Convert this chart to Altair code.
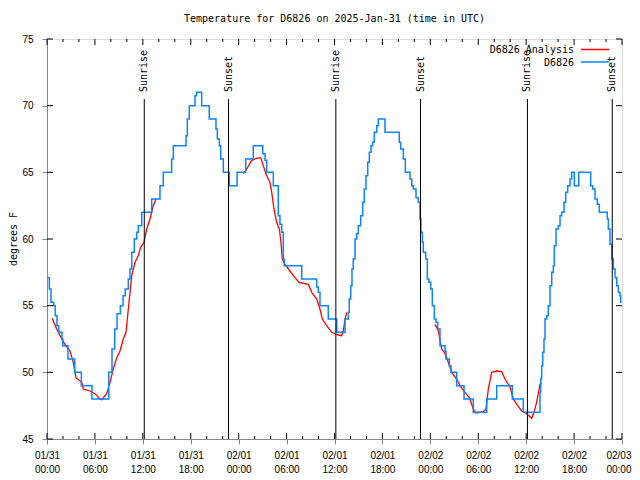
import json
import altair as alt
import pandas as pd

MONO = "DejaVu Sans Mono"

# ---- D6826 observed (hours since 2025-01-31 00:00 UTC, degrees F) ----
blue_hours = [0.0, 0.29, 0.5, 0.84, 1.04, 1.25, 1.47, 1.88, 1.97, 2.63, 3.47, 4.3, 5.63,
              7.73, 8.14, 8.48, 8.77, 9.18, 9.52, 9.8, 10.18, 10.39, 10.61, 10.93, 11.23,
              11.43, 11.86, 13.11, 14.15, 14.56, 15.61, 15.82, 17.41, 17.57, 17.82, 18.53,
              18.74, 19.37, 20.32, 21.16, 21.33, 21.58, 21.75, 22.08, 22.83, 23.8, 24.88,
              25.83, 27.01, 27.3, 27.51, 28.34, 28.96, 29.17, 29.39, 29.59, 29.71, 31.89,
              33.77, 33.97, 34.18, 35.22, 36.28, 37.32, 37.73, 37.85, 38.03, 38.19, 38.35,
              38.57, 38.78, 38.98, 39.28, 39.53, 39.73, 39.94, 40.16, 40.36, 40.57, 40.78,
              40.98, 41.28, 41.49, 42.32, 44.11, 44.29, 44.62, 44.87, 45.45, 45.67, 45.87,
              46.21, 46.5, 46.71, 46.83, 47.0, 47.12, 47.42, 47.62, 47.83, 48.05, 48.25,
              48.5, 48.71, 48.92, 49.21, 49.84, 49.96, 50.38, 50.59, 51.3, 52.22, 53.38,
              55.06, 56.31, 58.27, 59.64, 61.73, 61.82, 61.94, 62.07, 62.23, 62.36, 62.57,
              62.77, 62.99, 63.2, 63.4, 63.52, 63.74, 64.02, 64.24, 64.45, 64.74, 64.95,
              65.2, 65.49, 65.7, 66.03, 66.58, 68.08, 68.33, 68.62, 68.91, 69.16, 70.16,
              70.29, 70.5, 70.71, 70.92, 71.13, 71.34, 71.54, 71.75, 71.84, 71.92]
blue_temps = [57.1, 56.25, 55.25, 55, 54.25, 53.5, 53, 52.5, 52, 51, 50, 49, 48,
              50, 51.75, 53.25, 54.4, 55, 55.75, 56.25, 57, 57.75, 59, 60, 60.5,
              61, 62, 63, 64, 65, 66, 67, 67.75, 69, 70, 70.75,
              71, 70, 69, 68.25, 67.5, 67, 66, 65, 64, 65, 66,
              67, 66.4, 65.9, 65, 64, 61.75, 61.1, 60.5, 58.5, 58, 57,
              56.4, 56, 55, 54, 53, 54, 54.5, 55.5, 56.5, 57.75, 58.5,
              60, 60.4, 61, 61.75, 62.75, 63.75, 64.75, 65.75, 66.5, 67, 67.25,
              68, 68.5, 69, 68, 67.25, 66.75, 66, 65, 64.5, 64, 63.75,
              63.1, 62.75, 61.5, 60.5, 59.75, 59, 58.5, 57, 56.75, 56.25, 55,
              54, 53.75, 53.25, 52, 51.6, 51, 50.5, 50, 49, 48, 47,
              48, 49, 48, 47, 48.5, 49.5, 50.5, 51.5, 52.5, 54, 54.25,
              55, 56.5, 57.5, 58, 59.5, 60.75, 61, 61.75, 62, 62.75, 63.5,
              64, 64.5, 65, 64, 65, 64, 63.75, 63, 62.6, 62, 61.5,
              60.75, 59.6, 58.5, 57.75, 57.1, 56.5, 56, 55.75, 55.25, 55.25]

# ---- D6826 Analysis (three separate segments) ----
red1_hours = [0.66, 1.21, 1.63, 2.25, 2.88, 3.29, 3.63, 4.35, 4.55, 5.38, 6.01, 6.64, 6.85,
              7.48, 7.89, 8.3, 8.73, 9.14, 9.55, 9.89, 10.06, 10.31, 10.61, 11.02, 11.43,
              11.73, 12.15, 12.48, 12.9, 13.31, 13.65]
red1_temps = [54.05, 53.25, 52.75, 52.1, 51.6, 50.75, 49.6, 49.25, 48.75, 48.6, 48.4, 48, 47.95,
              48.4, 49.25, 50.25, 51.1, 51.6, 52.5, 53, 54, 55.5, 57.25, 58.25, 58.75,
              59.4, 59.75, 60.75, 61.5, 62.5, 63]
red2_hours = [24.58, 25.01, 25.63, 26.26, 26.76, 27.08, 27.51, 27.92, 28.14, 28.42, 28.76,
              29.09, 29.3, 29.46, 29.8, 30.43, 31.05, 31.56, 32.72, 33.15, 33.77, 34.18,
              34.47, 35.02, 35.65, 36.48, 36.9, 37.1, 37.32, 37.53]
red2_temps = [64.9, 65.25, 65.9, 66.05, 66.1, 65.5, 64.75, 64.25, 63.5, 62.25, 61.25,
              60.75, 59.75, 58.5, 58.1, 57.6, 57.1, 56.75, 56.6, 56, 55.5, 54.75,
              54, 53.5, 53, 52.8, 52.75, 53.1, 54, 54.5]
red3_hours = [48.59, 49.0, 49.42, 49.84, 50.25, 50.68, 51.3, 51.72, 52.34, 52.88, 53.38,
              53.72, 54.63, 54.97, 55.26, 55.68, 56.31, 56.94, 57.35, 57.98, 58.39, 58.82,
              59.44, 60.06, 60.69, 60.98, 61.31, 61.73, 61.94]
red3_temps = [53.6, 53.1, 51.75, 51.4, 50.75, 50, 49.5, 49, 48.5, 48.1, 47.25,
              46.95, 47.05, 47.25, 48.75, 50, 50.1, 50.05, 49.5, 48.9, 48, 47.6,
              47.1, 46.9, 46.55, 47, 47.75, 49.1, 49.2]

# ---- sun events ----
sun_hours = [12.18, 22.73, 36.17, 46.77, 60.16, 70.78]
sun_labels = ["Sunrise", "Sunset", "Sunrise", "Sunset", "Sunrise", "Sunset"]

# ---- axes ----
x_tick_hours = list(range(0, 73, 6))
x_tick_dates = ["01/31", "01/31", "01/31", "01/31", "02/01", "02/01", "02/01", "02/01",
                "02/02", "02/02", "02/02", "02/02", "02/03"]
x_tick_times = ["00:00", "06:00", "12:00", "18:00"] * 3 + ["00:00"]
x_minor_hours = [h for h in range(0, 73, 2) if h % 6]
y_tick_values = [45, 50, 55, 60, 65, 70, 75]

legend_names = ["D6826 Analysis", "D6826"]
legend_colors = ["#ff0000", "#0a84ff"]

title_text = "Temperature for D6826 on 2025-Jan-31 (time in UTC)"
y_title = "degrees F"

W, H = 575, 400

blue_df = pd.DataFrame({"hour": blue_hours, "temp": blue_temps})
red_df = pd.concat([
    pd.DataFrame({"hour": h, "temp": t, "seg": s})
    for h, t, s in [(red1_hours, red1_temps, 1), (red2_hours, red2_temps, 2), (red3_hours, red3_temps, 3)]
])
sun_df = pd.DataFrame({"hour": sun_hours, "label": sun_labels})

label_expr = "[{d}[round(datum.value/6)], {t}[round(datum.value/6)]]".format(
    d=json.dumps(x_tick_dates), t=json.dumps(x_tick_times))
last_h = x_tick_hours[-1]

x_scale = alt.Scale(domain=[0, 72], nice=False, zero=False)
y_scale = alt.Scale(domain=[45, 75], nice=False, zero=False)
x_axis = alt.Axis(values=x_tick_hours, labelExpr=label_expr, title=None, grid=False,
                  labelPadding=6, labelBaseline="top", labelLineHeight=14,
                  labelFlush=False, labelOverlap=False,
                  labelAlign={"condition": {"test": f"datum.value == {last_h}", "value": "right"},
                              "value": "center"},
                  labelOffset={"condition": {"test": f"datum.value == {last_h}", "value": 9},
                               "value": 0})
y_axis = alt.Axis(values=y_tick_values, title=None, labelPadding=9, grid=False)

def X(field="hour"):
    return alt.X(f"{field}:Q", scale=x_scale, axis=x_axis)

def Y(field="temp"):
    return alt.Y(f"{field}:Q", scale=y_scale, axis=y_axis)

red = alt.Chart(red_df).mark_line(color=legend_colors[0], strokeWidth=1.3).encode(
    x=X(), y=Y(), detail="seg:N")
blue = alt.Chart(blue_df).mark_line(color=legend_colors[1], strokeWidth=1.5,
                                    interpolate="step-after").encode(x=X(), y=Y())

xmaj = pd.DataFrame({"hour": x_tick_hours})
xmin = pd.DataFrame({"hour": x_minor_hours})
ymaj = pd.DataFrame({"temp": y_tick_values})
tick_layers = [
    alt.Chart(xmaj).mark_rule(color="black").encode(x=X(), y=alt.value(H), y2=alt.value(H - 6)),
    alt.Chart(xmaj).mark_rule(color="black").encode(x=X(), y=alt.value(0), y2=alt.value(6)),
    alt.Chart(xmin).mark_rule(color="black").encode(x=X(), y=alt.value(H), y2=alt.value(H - 3)),
    alt.Chart(xmin).mark_rule(color="black").encode(x=X(), y=alt.value(0), y2=alt.value(3)),
    alt.Chart(ymaj).mark_rule(color="black").encode(y=Y(), x=alt.value(0), x2=alt.value(6)),
    alt.Chart(ymaj).mark_rule(color="black").encode(y=Y(), x=alt.value(W), x2=alt.value(W - 6)),
]

sun_rules = alt.Chart(sun_df).mark_rule(color="black", strokeWidth=1).encode(
    x=X(), y=alt.value(60), y2=alt.value(H))
sun_text = alt.Chart(sun_df).mark_text(angle=270, align="left", baseline="middle",
                                        font=MONO, fontSize=10, color="black").encode(
    x=X(), y=alt.value(53), text="label:N")

legend_layers = []
for i, (name, col) in enumerate(zip(legend_names, legend_colors)):
    ldf = pd.DataFrame({"label": [name]})
    legend_layers.append(
        alt.Chart(ldf).mark_text(align="right", baseline="middle", font=MONO, fontSize=10,
                                 color="black").encode(
            x=alt.value(527), y=alt.value(11 + 12.5 * i), text="label:N"))
    legend_layers.append(
        alt.Chart(ldf).mark_rule(color=col, strokeWidth=1.5).encode(
            x=alt.value(534), x2=alt.value(562), y=alt.value(10.5 + 12.5 * i)))

# chart title and y-axis title as text marks placed outside the plot area
title_layer = alt.Chart(pd.DataFrame({"t": [title_text]})).mark_text(
    align="center", baseline="middle", font=MONO, fontSize=10, color="black").encode(
    x=alt.value(W / 2), y=alt.value(-20), text="t:N")
ytitle_layer = alt.Chart(pd.DataFrame({"t": [y_title]})).mark_text(
    align="center", baseline="middle", angle=270, font=MONO, fontSize=10, color="black").encode(
    x=alt.value(-33), y=alt.value(H / 2), text="t:N")

chart = alt.layer(red, blue, *tick_layers, sun_rules, sun_text, *legend_layers,
                  title_layer, ytitle_layer).properties(
    width=W, height=H,
    padding={"left": 39, "top": 31, "right": 10, "bottom": 34},
    autosize=alt.AutoSizeParams(type="none"),
).configure_view(stroke="black", strokeWidth=1).configure_axis(
    labelFont=MONO, labelFontSize=10, labelColor="black",
    grid=False, domain=False, ticks=False, tickSize=0,
).configure(background="white")

chart.save("out.html", embed_options={"renderer": "svg", "actions": False})
